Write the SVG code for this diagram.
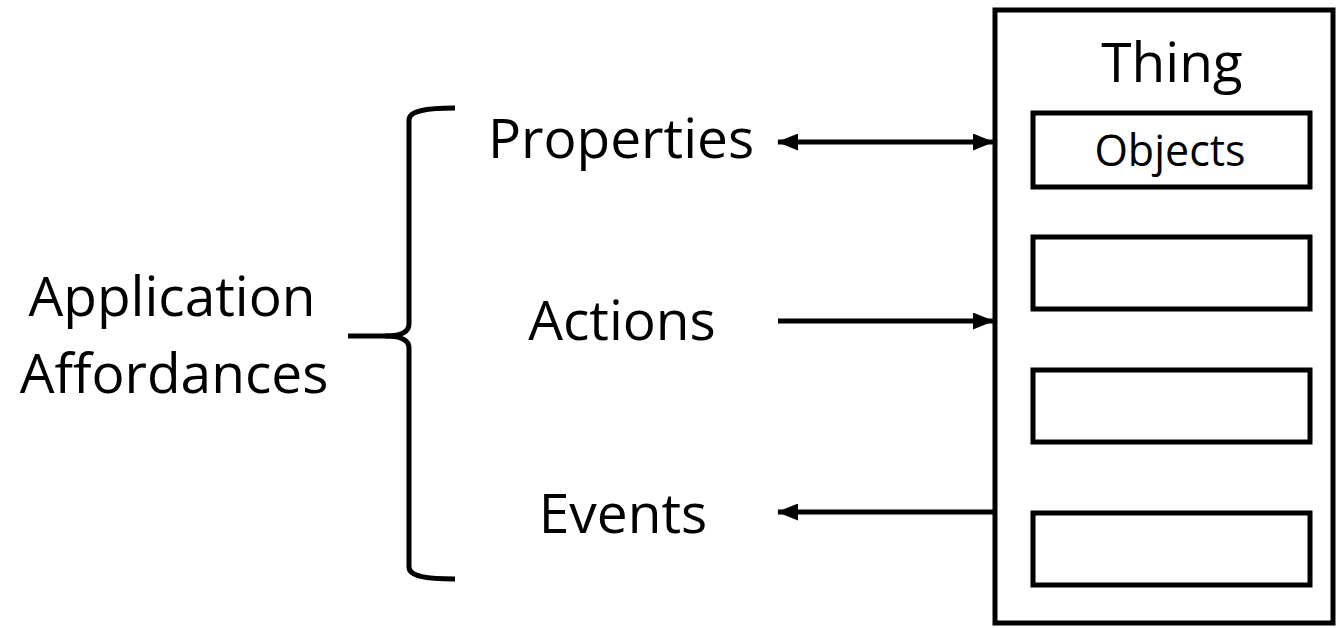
<svg xmlns="http://www.w3.org/2000/svg" width="1336" height="628" viewBox="0 0 1336 628">
<style>
  .lbl { font-family: "Open Sans", "Noto Sans", "Liberation Sans", sans-serif; fill: #000; text-anchor: middle; font-variant-ligatures: none; }
  .big { font-size: 55px; }
  .small { font-size: 43px; }
  .box { fill: #fff; stroke: #000; stroke-width: 5; }
  .line { stroke: #000; stroke-width: 5; fill: none; }
</style>
<defs>
  <marker id="ah" markerWidth="21" markerHeight="17" refX="20" refY="8.5" orient="auto-start-reverse" markerUnits="userSpaceOnUse">
    <path d="M0,0 L21,8.5 L0,17 Z" fill="#000"/>
  </marker>
</defs>
<rect width="1336" height="628" fill="#fff"/>
<g id="affordances">
  <text class="lbl big" x="172" y="316">Application</text>
  <text class="lbl big" x="174" y="393">Affordances</text>
</g>
<g id="brace">
  <path class="line" d="M348,336 L385,336 C400,336 409,332 409,324 L409,120 C409,111 425,108 455,108"/>
  <path class="line" d="M385,336 C400,336 409,340 409,348 L409,567 C409,576 425,579 455,579"/>
</g>
<g id="properties"><text class="lbl big" x="621" y="158">Properties</text></g>
<g id="actions"><text class="lbl big" x="622" y="340">Actions</text></g>
<g id="events"><text class="lbl big" x="623" y="533">Events</text></g>
<g id="thing">
  <rect class="box" x="995" y="10" width="338" height="613"/>
  <text class="lbl big" x="1172" y="82">Thing</text>
</g>
<g id="objects">
  <rect class="box" x="1033" y="113" width="277" height="74"/>
  <text class="lbl small" x="1170" y="166">Objects</text>
</g>
<g id="slot2"><rect class="box" x="1033" y="237" width="277" height="72"/></g>
<g id="slot3"><rect class="box" x="1033" y="370" width="277" height="72"/></g>
<g id="slot4"><rect class="box" x="1033" y="513" width="277" height="72"/></g>
<g id="connectors">
  <line class="line" x1="778" y1="142" x2="993" y2="142" marker-start="url(#ah)" marker-end="url(#ah)"/>
  <line class="line" x1="778" y1="321" x2="993" y2="321" marker-end="url(#ah)"/>
  <line class="line" x1="993" y1="512" x2="778" y2="512" marker-end="url(#ah)"/>
</g>
</svg>
